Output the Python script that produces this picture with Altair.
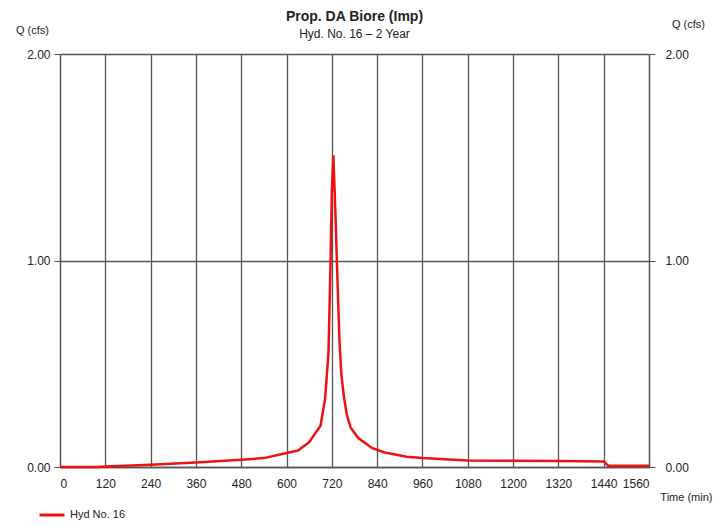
import altair as alt
import pandas as pd

# Hydrograph (time in min, flow in cfs)
time_min = [0, 96, 120, 240, 360, 480, 540, 600, 630, 660, 690, 702, 711, 716, 720,
            724, 730, 735, 740, 745, 752, 760, 770, 790, 826, 860, 918, 960, 1020,
            1080, 1200, 1320, 1440, 1452, 1560]
flow_cfs = [0.0, 0.0, 0.003, 0.011, 0.022, 0.035, 0.043, 0.068, 0.08, 0.12, 0.2, 0.33,
            0.55, 0.94, 1.34, 1.51, 1.2, 0.9, 0.62, 0.45, 0.34, 0.25, 0.19, 0.14, 0.092,
            0.07, 0.05, 0.044, 0.038, 0.032, 0.03, 0.029, 0.027, 0.006, 0.006]
series_name = "Hyd No. 16"
x_ticks = list(range(0, 1561, 120))
y_ticks = [0, 1, 2]

df = pd.DataFrame({"t": time_min, "q": flow_cfs, "s": [series_name] * len(time_min)})

FONT = "Liberation Sans"
GRID = "#555555"
TXT = "#222222"


def x_enc():
    return alt.X("t:Q", scale=alt.Scale(domain=[0, 1560], nice=False, zero=False),
                 axis=alt.Axis(values=x_ticks, format="d", grid=True, gridColor=GRID,
                               gridWidth=1.3, domainColor=GRID, domainWidth=1.3,
                               ticks=False, labelPadding=11, labelFont=FONT,
                               labelFontSize=12, labelColor=TXT, title="Time (min)",
                               titleFont=FONT, titleFontSize=11, titleFontWeight="normal",
                               titleColor=TXT, titleAlign="right", titleBaseline="middle",
                               titleX=652, titleY=30))


left = alt.Chart(df).mark_line(strokeWidth=2.5).encode(
    x=x_enc(),
    y=alt.Y("q:Q", scale=alt.Scale(domain=[0, 2], nice=False),
            axis=alt.Axis(values=y_ticks, format=".2f", grid=True, gridColor=GRID,
                          gridWidth=1.3, domainColor=GRID, domainWidth=1.3,
                          tickColor=GRID, tickSize=6, labelPadding=4,
                          labelFont=FONT, labelFontSize=12, labelColor=TXT,
                          title="Q (cfs)", titleFont=FONT, titleFontSize=11,
                          titleFontWeight="normal", titleColor=TXT, titleAngle=0,
                          titleAlign="center", titleBaseline="middle",
                          titleX=-28, titleY=-24)),
    color=alt.Color("s:N", scale=alt.Scale(range=["#ee1111"]),
                    legend=alt.Legend(title=None, orient="none", legendX=-22, legendY=447,
                                      symbolType="stroke", symbolSize=625,
                                      symbolStrokeWidth=3, labelFont=FONT,
                                      labelFontSize=11, labelColor=TXT)),
)

right = alt.Chart(df).mark_line(opacity=0).encode(
    x=x_enc(),
    y=alt.Y("q:Q", scale=alt.Scale(domain=[0, 2], nice=False),
            axis=alt.Axis(orient="right", values=y_ticks, format=".2f", grid=False,
                          domainColor=GRID, domainWidth=1.3, tickColor=GRID, tickSize=6,
                          labelPadding=10, labelFont=FONT, labelFontSize=12,
                          labelColor=TXT, title="Q (cfs)", titleFont=FONT,
                          titleFontSize=11, titleFontWeight="normal", titleColor=TXT,
                          titleAngle=0, titleAlign="center", titleBaseline="middle",
                          titleX=39, titleY=-30)),
)

chart = alt.layer(left, right).resolve_scale(y="independent").properties(
    width=589, height=413,
    title=alt.TitleParams(text="Prop. DA Biore (Imp)", subtitle="Hyd. No. 16 \u2013 2 Year",
                          font=FONT, fontSize=14, fontWeight="bold", color=TXT,
                          subtitleFont=FONT, subtitleFontSize=12, subtitleColor=TXT,
                          subtitlePadding=5, anchor="middle", offset=-22),
    autosize=alt.AutoSizeParams(type="none"),
    padding={"left": 60, "top": 54, "right": 71, "bottom": 58},
).configure_view(stroke=None).configure(background="white")

chart.save("out.html", embed_options={"renderer": "svg", "actions": False})
